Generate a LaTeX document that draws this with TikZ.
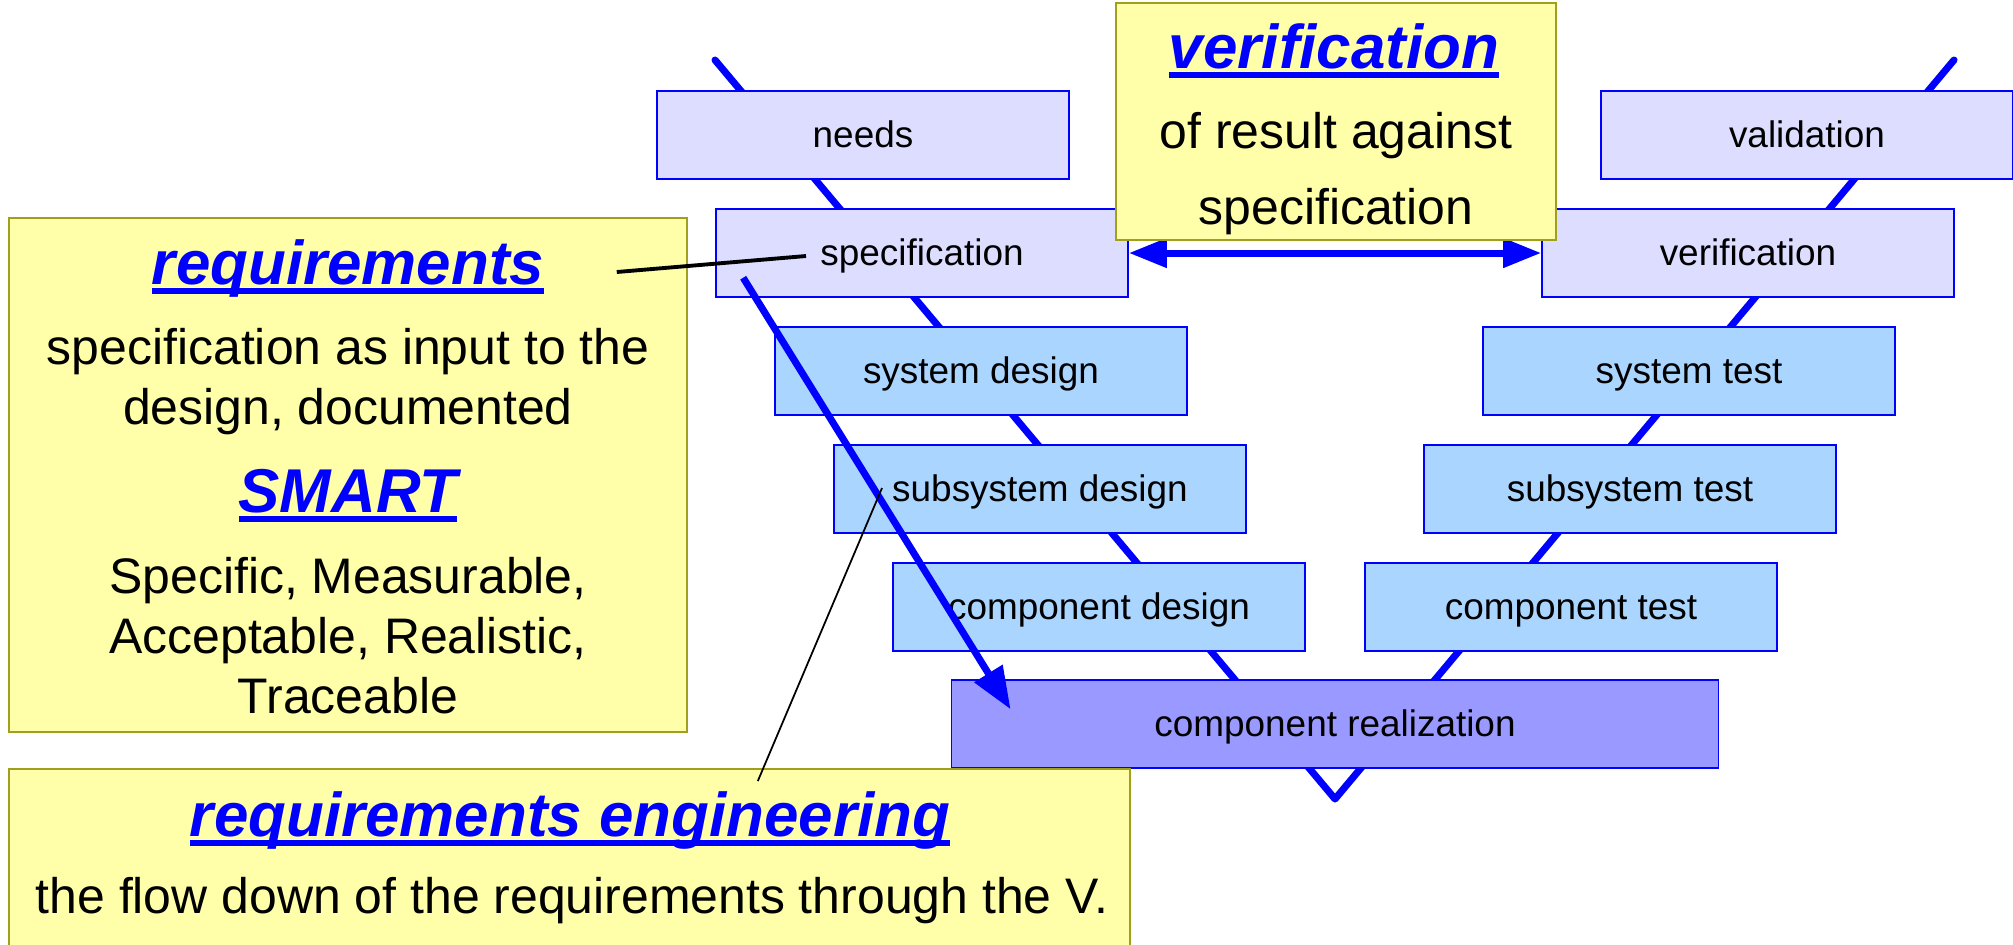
\documentclass[tikz,border=0pt]{standalone}
\usepackage{fontspec}
\setmainfont{Liberation Sans}
\usetikzlibrary{arrows.meta}
\definecolor{vblue}{RGB}{0,0,255}
\definecolor{notefill}{RGB}{255,255,170}
\definecolor{noteline}{RGB}{160,160,30}
\definecolor{palebox}{RGB}{221,221,255}
\definecolor{skybox}{RGB}{170,213,255}
\definecolor{deepbox}{RGB}{153,153,255}
\newcommand{\ulword}[1]{\setbox0\hbox{#1}\rlap{\raisebox{-2.9pt}{\rule{\wd0}{1.8pt}}}\box0}

\begin{document}
\begin{tikzpicture}[x=0.01cm, y=-0.01cm,
  stage/.style={draw=vblue, line width=0.4pt, minimum width=4.12cm, minimum height=0.88cm, inner sep=0pt, text height=9pt, text depth=2pt, font=\fontsize{10.5}{12}\selectfont},
  note/.style={draw=noteline, fill=notefill, line width=0.5pt, inner sep=0pt},
  ttl/.style={anchor=base, inner sep=0pt, text=vblue, font=\fontsize{17.6}{20}\selectfont\bfseries\itshape},
  body/.style={anchor=base, inner sep=0pt, align=center, font=\fontsize{14.2}{17}\selectfont},
  vline/.style={vblue, line width=2pt}]
  \useasboundingbox (0,0) rectangle (2013,944);

  \coordinate (vtopl) at (715,60);
  \coordinate (vbot) at (1335,799);
  \coordinate (vtopr) at (1954,60);
  \draw[vline, line cap=round, line join=round] (vtopl) -- (vbot) -- (vtopr);

  \node[stage, fill=palebox] (needs) at (863,135) {needs};
  \node[stage, fill=palebox] (spec) at (922,253) {specification};
  \node[stage, fill=skybox] (sysd) at (981,371) {system design};
  \node[stage, fill=skybox] (subd) at (1040,489) {subsystem design};
  \node[stage, fill=skybox] (compd) at (1099,607) {component design};
  \node[stage, fill=deepbox, minimum width=7.67cm] (real) at (1335,724) {component realization};
  \node[stage, fill=skybox] (compt) at (1571,607) {component test};
  \node[stage, fill=skybox] (subt) at (1630,489) {subsystem test};
  \node[stage, fill=skybox] (syst) at (1689,371) {system test};
  \node[stage, fill=palebox] (verif) at (1748,253) {verification};
  \node[stage, fill=palebox] (valid) at (1807,135) {validation};

  \draw[vline, -{Triangle[length=12pt, width=9pt]}] ([shift={(28,-20)}]spec.south west) -- ([shift={(60,30)}]real.north west);
  \draw[vline, {Triangle[length=10.8pt, width=8pt]}-{Triangle[length=10.8pt, width=8pt]}] (spec.east) -- (verif.west);

  \node[note, minimum width=6.78cm, minimum height=5.14cm] (reqbox) at (348,475) {};
  \node[note, minimum width=4.40cm, minimum height=2.37cm] (verbox) at (1336,121.5) {};
  \node[note, minimum width=11.21cm, minimum height=2.4cm] (engbox) at (569.5,889) {};

  \node[ttl] (reqttl) at (348,284) {\ulword{requirements}};
  \node[body] (reqtxt) at (348,424) {specification as input to the\\design, documented};
  \node[ttl] (smart) at (348,512) {\ulword{SMART}};
  \node[body] (smarttxt) at (348,713) {Specific, Measurable,\\Acceptable, Realistic,\\Traceable};
  \node[ttl] (verttl) at (1334,68) {\ulword{verification}};
  \node[body, font=\fontsize{14.2}{21.6}\selectfont] (vertxt) at (1336,224) {of result against\\specification};
  \node[ttl] (engttl) at (570,836) {\ulword{requirements engineering}};
  \node[body] (engtxt) at (572,913) {the flow down of the requirements through the V.};

  \draw[line width=1.1pt] ([shift={(72,4)}]reqttl.east) -- ([shift={(-116,3)}]spec.center);
  \draw[line width=0.5pt] ([shift={(750,13)}]engbox.north west) -- ([shift={(-158,-1)}]subd.center);
\end{tikzpicture}
\end{document}
